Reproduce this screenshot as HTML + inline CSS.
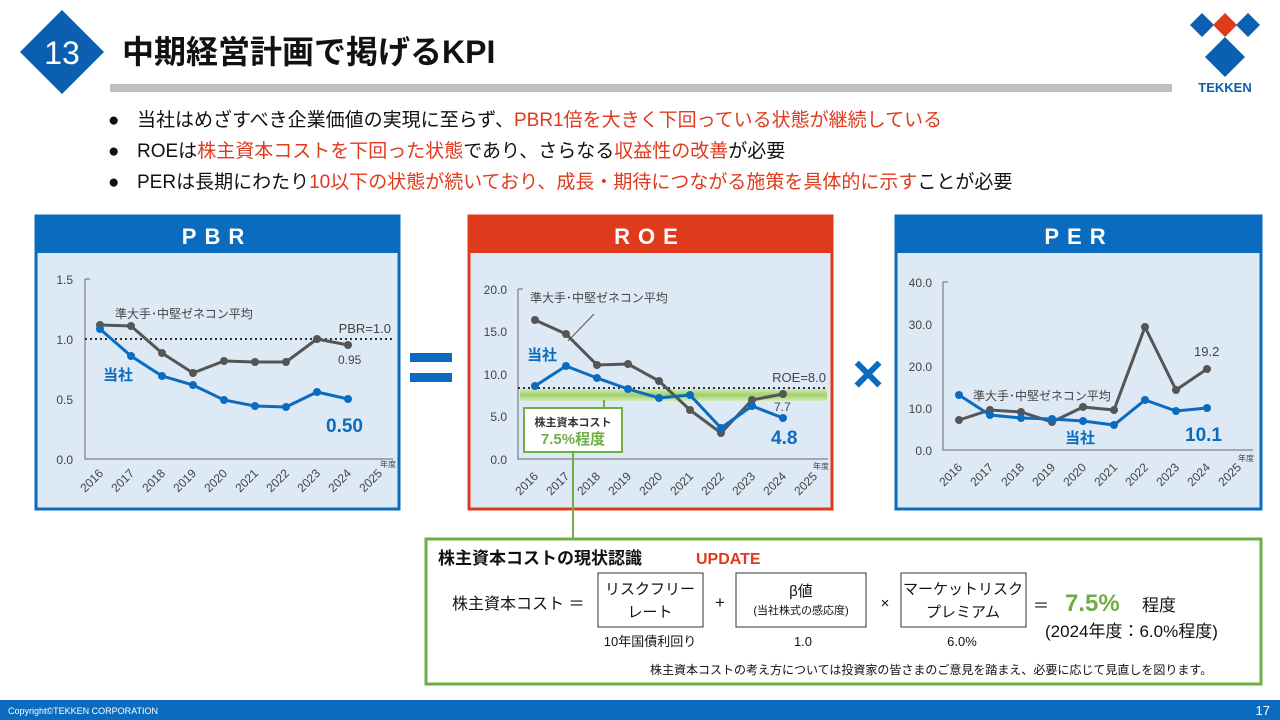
<!DOCTYPE html>
<html><head><meta charset="utf-8"><style>
html,body{margin:0;padding:0;background:#fff;width:1280px;height:720px;overflow:hidden}
svg{display:block;font-family:"Liberation Sans","Noto Sans CJK JP",sans-serif}
</style></head><body>
<svg width="1280" height="720" viewBox="0 0 1280 720" xmlns="http://www.w3.org/2000/svg">
<defs><linearGradient id="gb" x1="0" y1="0" x2="0" y2="1"><stop offset="0" stop-color="#d3ebb8"/><stop offset="0.5" stop-color="#9fd06a"/><stop offset="1" stop-color="#d3ebb8"/></linearGradient></defs>
<!-- header -->
<polygon points="62,10 104,52 62,94 20,52" fill="#0b5fb0"/>
<text x="62" y="64" font-size="32" fill="#fff" text-anchor="middle">13</text>
<text x="122" y="63" font-size="32" font-weight="bold" fill="#111">中期経営計画で掲げるKPI</text>
<rect x="110" y="84" width="1062" height="8" fill="#bfbfbf"/>
<polygon points="1202,13 1214,25 1202,37 1190,25" fill="#0b5fb0"/>
<polygon points="1225,13 1237,25 1225,37 1213,25" fill="#e03a1c"/>
<polygon points="1248,13 1260,25 1248,37 1236,25" fill="#0b5fb0"/>
<polygon points="1225,37 1245,57 1225,77 1205,57" fill="#0b5fb0"/>
<text x="1225" y="92" font-size="13" font-weight="bold" fill="#0b5fb0" text-anchor="middle">TEKKEN</text>
<!-- bullets -->
<g font-size="19" fill="#111">
<text x="108" y="126">●</text><text x="108" y="157">●</text><text x="108" y="188">●</text>
<text x="137" y="126">当社はめざすべき企業価値の実現に至らず、<tspan fill="#e03a1c">PBR1倍を大きく下回っている状態が継続している</tspan></text>
<text x="137" y="157">ROEは<tspan fill="#e03a1c">株主資本コストを下回った状態</tspan>であり、さらなる<tspan fill="#e03a1c">収益性の改善</tspan>が必要</text>
<text x="137" y="188">PERは長期にわたり<tspan fill="#e03a1c">10以下の状態が続いており、成長・期待につながる施策を具体的に示す</tspan>ことが必要</text>
</g>

<!-- PBR panel -->
<rect x="36" y="216" width="363" height="293" fill="#dde9f5" stroke="#0b6cbf" stroke-width="3"/>
<rect x="36" y="216" width="363" height="37" fill="#0b6cbf"/>
<text x="217" y="244" font-size="22" font-weight="bold" fill="#fff" text-anchor="middle" letter-spacing="8">PBR</text>
<g font-size="12" fill="#444">
<path d="M85,279 V459 H393 M85,279 h5" stroke="#666" fill="none"/>
<text x="73" y="284" text-anchor="end">1.5</text><text x="73" y="344" text-anchor="end">1.0</text>
<text x="73" y="404" text-anchor="end">0.5</text><text x="73" y="464" text-anchor="end">0.0</text>
<line x1="85" y1="339" x2="393" y2="339" stroke="#333" stroke-width="2" stroke-dasharray="2,3"/>
<polyline points="100,325 131,326 162,353 193,373 224,361 255,362 286,362 317,339 348,345" fill="none" stroke="#555" stroke-width="3"/>
<g fill="#555"><circle cx="100" cy="325" r="4"/><circle cx="131" cy="326" r="4"/><circle cx="162" cy="353" r="4"/><circle cx="193" cy="373" r="4"/><circle cx="224" cy="361" r="4"/><circle cx="255" cy="362" r="4"/><circle cx="286" cy="362" r="4"/><circle cx="317" cy="339" r="4"/><circle cx="348" cy="345" r="4"/></g>
<polyline points="100,329 131,356 162,376 193,385 224,400 255,406 286,407 317,392 348,399" fill="none" stroke="#0b6cbf" stroke-width="3"/>
<g fill="#0b6cbf"><circle cx="100" cy="329" r="4"/><circle cx="131" cy="356" r="4"/><circle cx="162" cy="376" r="4"/><circle cx="193" cy="385" r="4"/><circle cx="224" cy="400" r="4"/><circle cx="255" cy="406" r="4"/><circle cx="286" cy="407" r="4"/><circle cx="317" cy="392" r="4"/><circle cx="348" cy="399" r="4"/></g>
<text x="115" y="318">準大手･中堅ゼネコン平均</text>
<text x="391" y="333" font-size="13" text-anchor="end">PBR=1.0</text>
<text x="338" y="364" font-size="12">0.95</text>
<text x="103" y="380" font-size="15" font-weight="bold" fill="#0b6cbf">当社</text>
<text x="326" y="432" font-size="19" font-weight="bold" fill="#0b6cbf">0.50</text>
<text x="396" y="467" font-size="8" text-anchor="end">年度</text>
<g font-size="12">
<text transform="translate(104,474) rotate(-45)" text-anchor="end">2016</text>
<text transform="translate(135,474) rotate(-45)" text-anchor="end">2017</text>
<text transform="translate(166,474) rotate(-45)" text-anchor="end">2018</text>
<text transform="translate(197,474) rotate(-45)" text-anchor="end">2019</text>
<text transform="translate(228,474) rotate(-45)" text-anchor="end">2020</text>
<text transform="translate(259,474) rotate(-45)" text-anchor="end">2021</text>
<text transform="translate(290,474) rotate(-45)" text-anchor="end">2022</text>
<text transform="translate(321,474) rotate(-45)" text-anchor="end">2023</text>
<text transform="translate(352,474) rotate(-45)" text-anchor="end">2024</text>
<text transform="translate(383,474) rotate(-45)" text-anchor="end">2025</text>
</g>
</g>

<!-- equals -->
<rect x="410" y="353" width="42" height="9" fill="#0b6cbf"/>
<rect x="410" y="373" width="42" height="9" fill="#0b6cbf"/>

<!-- ROE panel -->
<rect x="469" y="216" width="363" height="293" fill="#dde9f5" stroke="#e03a1c" stroke-width="3"/>
<rect x="469" y="216" width="363" height="37" fill="#e03a1c"/>
<text x="650" y="244" font-size="22" font-weight="bold" fill="#fff" text-anchor="middle" letter-spacing="8">ROE</text>
<g font-size="12" fill="#444">
<rect x="520" y="389" width="307" height="12" fill="url(#gb)"/>
<path d="M518,289 V459 H828 M518,289 h5" stroke="#666" fill="none"/>
<text x="507" y="294" text-anchor="end">20.0</text><text x="507" y="336" text-anchor="end">15.0</text>
<text x="507" y="379" text-anchor="end">10.0</text><text x="507" y="421" text-anchor="end">5.0</text>
<text x="507" y="464" text-anchor="end">0.0</text>
<line x1="518" y1="388" x2="828" y2="388" stroke="#333" stroke-width="2" stroke-dasharray="2,3"/>
<line x1="568" y1="341" x2="594" y2="314" stroke="#555"/>
<polyline points="535,320 566,334 597,365 628,364 659,381 690,410 721,433 752,400 783,394" fill="none" stroke="#555" stroke-width="3"/>
<g fill="#555"><circle cx="535" cy="320" r="4"/><circle cx="566" cy="334" r="4"/><circle cx="597" cy="365" r="4"/><circle cx="628" cy="364" r="4"/><circle cx="659" cy="381" r="4"/><circle cx="690" cy="410" r="4"/><circle cx="721" cy="433" r="4"/><circle cx="752" cy="400" r="4"/><circle cx="783" cy="394" r="4"/></g>
<polyline points="535,386 566,366 597,378 628,389 659,398 690,395 721,428 752,406 783,418" fill="none" stroke="#0b6cbf" stroke-width="3"/>
<g fill="#0b6cbf"><circle cx="535" cy="386" r="4"/><circle cx="566" cy="366" r="4"/><circle cx="597" cy="378" r="4"/><circle cx="628" cy="389" r="4"/><circle cx="659" cy="398" r="4"/><circle cx="690" cy="395" r="4"/><circle cx="721" cy="428" r="4"/><circle cx="752" cy="406" r="4"/><circle cx="783" cy="418" r="4"/></g>
<text x="530" y="302">準大手･中堅ゼネコン平均</text>
<text x="826" y="382" font-size="13" text-anchor="end">ROE=8.0</text>
<text x="774" y="411" font-size="12">7.7</text>
<text x="527" y="360" font-size="15" font-weight="bold" fill="#0b6cbf">当社</text>
<text x="771" y="444" font-size="19" font-weight="bold" fill="#0b6cbf">4.8</text>
<text x="829" y="469" font-size="8" text-anchor="end">年度</text>
<line x1="604" y1="400" x2="604" y2="408" stroke="#70ad47" stroke-width="2"/>
<rect x="524" y="408" width="98" height="44" fill="#fff" stroke="#70ad47" stroke-width="2"/>
<text x="573" y="426" font-size="11" font-weight="bold" fill="#333" text-anchor="middle">株主資本コスト</text>
<text x="573" y="444" font-size="15" font-weight="bold" fill="#70ad47" text-anchor="middle">7.5%程度</text>
<g font-size="12">
<text transform="translate(539,477) rotate(-45)" text-anchor="end">2016</text>
<text transform="translate(570,477) rotate(-45)" text-anchor="end">2017</text>
<text transform="translate(601,477) rotate(-45)" text-anchor="end">2018</text>
<text transform="translate(632,477) rotate(-45)" text-anchor="end">2019</text>
<text transform="translate(663,477) rotate(-45)" text-anchor="end">2020</text>
<text transform="translate(694,477) rotate(-45)" text-anchor="end">2021</text>
<text transform="translate(725,477) rotate(-45)" text-anchor="end">2022</text>
<text transform="translate(756,477) rotate(-45)" text-anchor="end">2023</text>
<text transform="translate(787,477) rotate(-45)" text-anchor="end">2024</text>
<text transform="translate(818,477) rotate(-45)" text-anchor="end">2025</text>
</g>
</g>
<line x1="573" y1="452" x2="573" y2="539" stroke="#70ad47" stroke-width="2"/>

<!-- times -->
<text x="868" y="392" font-size="54" font-weight="bold" fill="#0b6cbf" text-anchor="middle">×</text>

<!-- PER panel -->
<rect x="896" y="216" width="365" height="293" fill="#dde9f5" stroke="#0b6cbf" stroke-width="3"/>
<rect x="896" y="216" width="365" height="37" fill="#0b6cbf"/>
<text x="1079" y="244" font-size="22" font-weight="bold" fill="#fff" text-anchor="middle" letter-spacing="8">PER</text>
<g font-size="12" fill="#444">
<path d="M943,282 V450 H1253 M943,282 h5" stroke="#666" fill="none"/>
<text x="932" y="287" text-anchor="end">40.0</text><text x="932" y="329" text-anchor="end">30.0</text>
<text x="932" y="371" text-anchor="end">20.0</text><text x="932" y="413" text-anchor="end">10.0</text>
<text x="932" y="455" text-anchor="end">0.0</text>
<polyline points="959,420 990,410 1021,412 1052,422 1083,407 1114,410 1145,327 1176,390 1207,369" fill="none" stroke="#555" stroke-width="3"/>
<g fill="#555"><circle cx="959" cy="420" r="4"/><circle cx="990" cy="410" r="4"/><circle cx="1021" cy="412" r="4"/><circle cx="1052" cy="422" r="4"/><circle cx="1083" cy="407" r="4"/><circle cx="1114" cy="410" r="4"/><circle cx="1145" cy="327" r="4"/><circle cx="1176" cy="390" r="4"/><circle cx="1207" cy="369" r="4"/></g>
<polyline points="959,395 990,415 1021,418 1052,419 1083,421 1114,425 1145,400 1176,411 1207,408" fill="none" stroke="#0b6cbf" stroke-width="3"/>
<g fill="#0b6cbf"><circle cx="959" cy="395" r="4"/><circle cx="990" cy="415" r="4"/><circle cx="1021" cy="418" r="4"/><circle cx="1052" cy="419" r="4"/><circle cx="1083" cy="421" r="4"/><circle cx="1114" cy="425" r="4"/><circle cx="1145" cy="400" r="4"/><circle cx="1176" cy="411" r="4"/><circle cx="1207" cy="408" r="4"/></g>
<text x="973" y="400">準大手･中堅ゼネコン平均</text>
<text x="1194" y="356" font-size="13">19.2</text>
<text x="1065" y="443" font-size="15" font-weight="bold" fill="#0b6cbf">当社</text>
<text x="1185" y="441" font-size="19" font-weight="bold" fill="#0b6cbf">10.1</text>
<text x="1254" y="461" font-size="8" text-anchor="end">年度</text>
<g font-size="12">
<text transform="translate(963,468) rotate(-45)" text-anchor="end">2016</text>
<text transform="translate(994,468) rotate(-45)" text-anchor="end">2017</text>
<text transform="translate(1025,468) rotate(-45)" text-anchor="end">2018</text>
<text transform="translate(1056,468) rotate(-45)" text-anchor="end">2019</text>
<text transform="translate(1087,468) rotate(-45)" text-anchor="end">2020</text>
<text transform="translate(1118,468) rotate(-45)" text-anchor="end">2021</text>
<text transform="translate(1149,468) rotate(-45)" text-anchor="end">2022</text>
<text transform="translate(1180,468) rotate(-45)" text-anchor="end">2023</text>
<text transform="translate(1211,468) rotate(-45)" text-anchor="end">2024</text>
<text transform="translate(1242,468) rotate(-45)" text-anchor="end">2025</text>
</g>
</g>

<!-- bottom box -->
<rect x="426" y="539" width="835" height="145" fill="#fff" stroke="#70ad47" stroke-width="3"/>
<text x="438" y="564" font-size="17" font-weight="bold" fill="#111">株主資本コストの現状認識</text>
<text x="696" y="564" font-size="16" font-weight="bold" fill="#e03a1c">UPDATE</text>
<g fill="#111">
<text x="452" y="609" font-size="16">株主資本コスト ＝</text>
<rect x="598" y="573" width="105" height="54" fill="#fff" stroke="#333"/>
<text x="650" y="594" font-size="15" text-anchor="middle">リスクフリー</text>
<text x="650" y="617" font-size="15" text-anchor="middle">レート</text>
<text x="720" y="608" font-size="17" text-anchor="middle">+</text>
<rect x="736" y="573" width="130" height="54" fill="#fff" stroke="#333"/>
<text x="801" y="596" font-size="15" text-anchor="middle">β値</text>
<text x="801" y="614" font-size="11" text-anchor="middle">(当社株式の感応度)</text>
<text x="885" y="608" font-size="15" text-anchor="middle">×</text>
<rect x="901" y="573" width="125" height="54" fill="#fff" stroke="#333"/>
<text x="963" y="594" font-size="15" text-anchor="middle">マーケットリスク</text>
<text x="963" y="617" font-size="15" text-anchor="middle">プレミアム</text>
<text x="1033" y="611" font-size="16">＝</text>
<text x="1065" y="611" font-size="24" font-weight="bold" fill="#70ad47">7.5%</text>
<text x="1142" y="611" font-size="17">程度</text>
<text x="1045" y="637" font-size="17">(2024年度：6.0%程度)</text>
<text x="650" y="646" font-size="13" text-anchor="middle">10年国債利回り</text>
<text x="803" y="646" font-size="13" text-anchor="middle">1.0</text>
<text x="962" y="646" font-size="13" text-anchor="middle">6.0%</text>
<text x="650" y="674" font-size="12">株主資本コストの考え方については投資家の皆さまのご意見を踏まえ、必要に応じて見直しを図ります。</text>
</g>

<!-- footer -->
<rect x="0" y="700" width="1280" height="20" fill="#0b6cbf"/>
<text x="8" y="714" font-size="9" fill="#fff">Copyright©TEKKEN CORPORATION</text>
<text x="1270" y="715" font-size="13" fill="#fff" text-anchor="end">17</text>
</svg>
</body></html>
